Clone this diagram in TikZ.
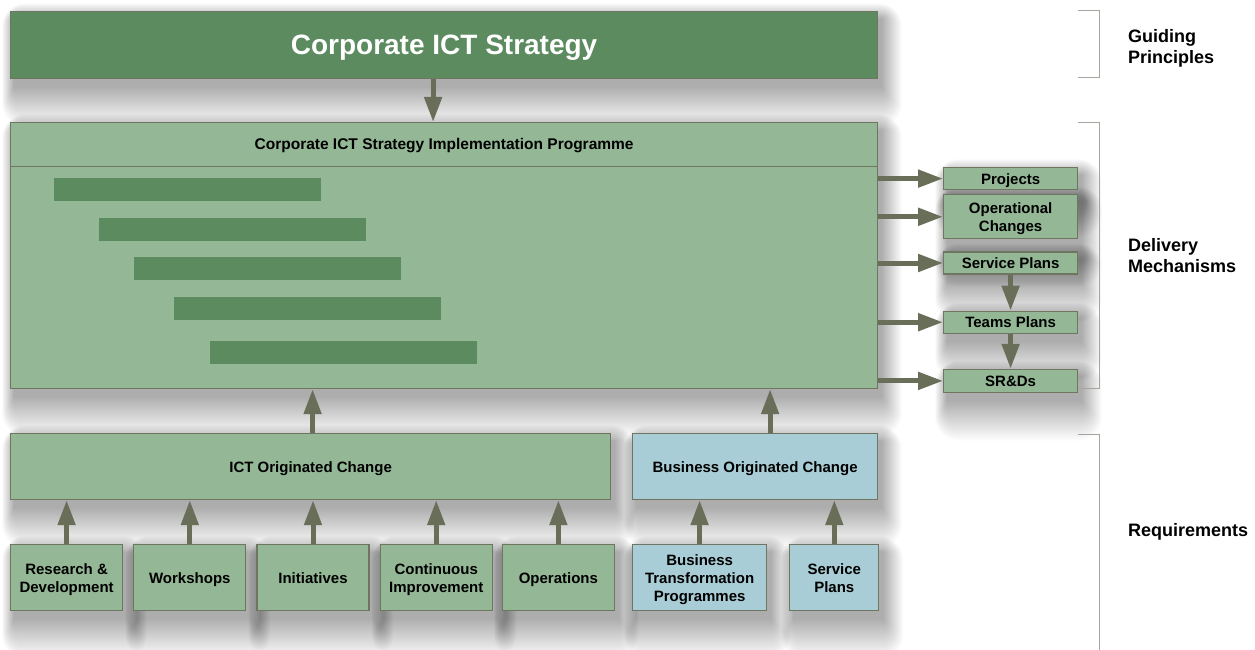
\documentclass[tikz,border=0pt]{standalone}
\usepackage{fontspec}
\setmainfont{Liberation Sans}
\usetikzlibrary{positioning,arrows.meta,backgrounds}
\definecolor{darkleaf}{RGB}{91,139,94}
\definecolor{paleleaf}{RGB}{148,184,150}
\definecolor{paleblue}{RGB}{169,205,214}
\definecolor{edgegrey}{RGB}{110,118,98}
\definecolor{arrowolive}{RGB}{104,110,88}
\definecolor{bracketgrey}{RGB}{165,165,155}

\tikzset{
  box/.style={draw=edgegrey, line width=1.2pt, fill=paleleaf, anchor=north west,
    inner sep=2pt, text depth=0pt, align=center, font=\bfseries\fontsize{15}{18}\selectfont},
  bizbox/.style={box, fill=paleblue},
  flow/.style={draw=arrowolive, line width=5pt, -{Triangle[length=25pt,width=17pt]}},
  haze/.style={fill=black, opacity=0.009},
  side/.style={anchor=west, align=left, inner sep=0pt, font=\bfseries\fontsize{18}{21}\selectfont},
  brace/.style={draw=bracketgrey, line width=1pt},
}

\begin{document}
\begin{tikzpicture}[x=1pt, y=-1pt]
\useasboundingbox (0,0) rectangle (1255,650);

% Strategy and programme
\node[box, fill=darkleaf, text=white, minimum width=867pt, minimum height=67pt,
  font=\bfseries\fontsize{28}{32}\selectfont] (strategy) at (10,11) {Corporate ICT Strategy};
\node[box, minimum width=867pt, minimum height=266pt] (prog) at (10,122) {};
\node[anchor=north, minimum height=44pt, text depth=0pt, font=\bfseries\fontsize{15.5}{18}\selectfont]
  (progtitle) at (prog.north) {Corporate ICT Strategy Implementation Programme};
\draw[draw=edgegrey, line width=1.2pt] (progtitle.south -| prog.west) -- (progtitle.south -| prog.east);

% Timeline bars
\foreach \x/\y in {54/178, 99/218, 134/257, 174/297, 210/341}
  \fill[darkleaf] (\x,\y) rectangle ++(267,23);

% Delivery mechanisms
\node[box, minimum width=134pt, minimum height=22pt] (proj) at (943,167) {Projects};
\node[box, minimum width=134pt, minimum height=44pt, below=4pt of proj] (opch) {Operational\\Changes};
\node[box, minimum width=134pt, minimum height=22pt, below=12pt of opch] (svc) {Service Plans};
\node[box, minimum width=134pt, minimum height=22pt, below=36pt of svc] (team) {Teams Plans};
\node[box, minimum width=134pt, minimum height=23pt, below=35pt of team] (srd) {SR\&Ds};

% Requirements
\node[box, minimum width=600pt, minimum height=66pt] (ict) at (10,433) {ICT Originated Change};
\node[bizbox, minimum width=245pt, minimum height=66pt] (bus) at (632,433) {Business Originated Change};

\node[box, minimum width=112pt, minimum height=66pt] (rnd) at (10,544) {Research \&\\Development};
\node[box, minimum width=112pt, minimum height=66pt, right=10pt of rnd] (wsh) {Workshops};
\node[box, minimum width=112pt, minimum height=66pt, right=10pt of wsh] (init) {Initiatives};
\node[box, minimum width=112pt, minimum height=66pt, right=10pt of init] (cimp) {Continuous\\Improvement};
\node[box, minimum width=112pt, minimum height=66pt, right=9pt of cimp] (ops) {Operations};
\node[bizbox, minimum width=134pt, minimum height=66pt] (btp) at (632,544) {Business\\Transformation\\Programmes};
\node[bizbox, minimum width=89pt, minimum height=66pt, right=22pt of btp] (bsvc) {Service\\Plans};

% Side labels and brackets
\node[side] (guide) at (1128,48) {Guiding\\Principles};
\node[side] (deliver) at (1128,256) {Delivery\\Mechanisms};
\node[side] (reqs) at (1128,532) {Requirements};
\draw[brace] (1078,11) -- (1099,11) -- (1099,78) -- (1078,78);
\draw[brace] (1078,123) -- (1099,123) -- (1099,388) -- (1078,388);
\draw[brace] (1078,434) -- (1099,434) -- (1099,650);

% Arrows
\draw[flow] ([xshift=-11pt]strategy.south) -- ([xshift=-11pt]prog.north);
\foreach \n in {proj,opch,svc,team,srd}
  \draw[flow] (prog.east |- \n.west) -- (\n.west);
\draw[flow] (svc) -- (team);
\draw[flow] (team) -- (srd);
\draw[flow] ([xshift=2pt]ict.north) -- ([xshift=2pt]ict.north |- prog.south);
\draw[flow] ([xshift=15pt]bus.north) -- ([xshift=15pt]bus.north |- prog.south);
\foreach \n in {rnd,wsh,init,cimp,ops}
  \draw[flow] (\n.north) -- (\n.north |- ict.south);
\foreach \n in {btp,bsvc}
  \draw[flow] (\n.north) -- (\n.north |- bus.south);

% Soft shadows: stacked faint rectangles under every box
\begin{scope}[on background layer]
  \fill[white] (0,0) rectangle (1255,650);
  \foreach \n in {strategy,prog,proj,opch,svc,team,srd,ict,bus,rnd,wsh,init,cimp,ops,btp,bsvc}
    \foreach \e in {0,1,...,40}
      \fill[haze, rounded corners=0.6*\e pt]
        ([shift={(4-0.3*\e,8-0.4*\e)}]\n.north west) rectangle ([shift={(4+0.5*\e,8+\e)}]\n.south east);
\end{scope}
\end{tikzpicture}
\end{document}
